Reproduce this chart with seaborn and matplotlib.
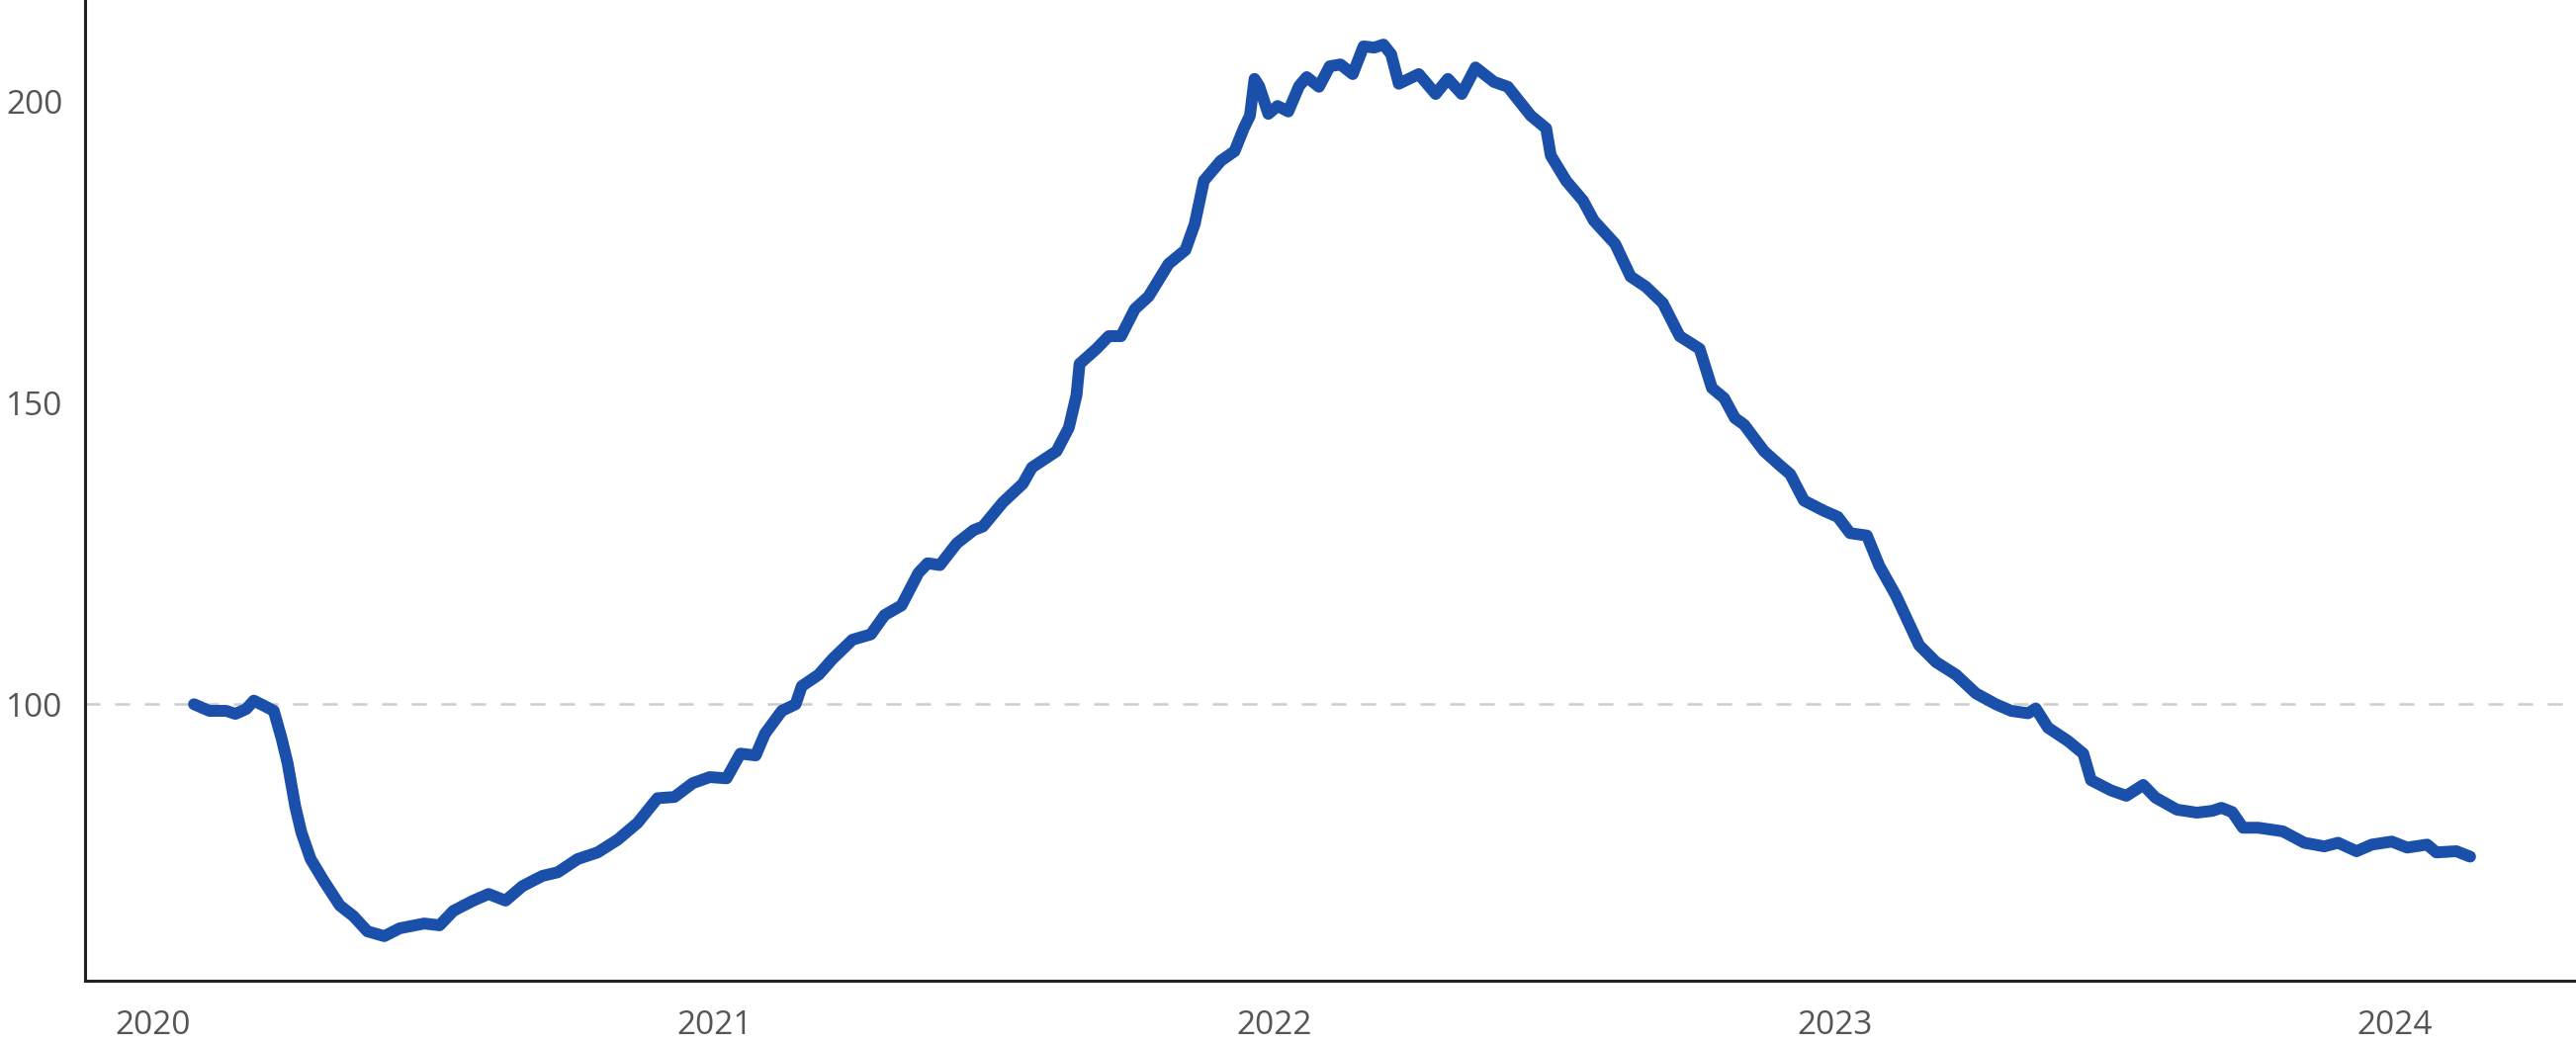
import pandas as pd
import numpy as np
import matplotlib
matplotlib.use("Agg")
import matplotlib.pyplot as plt
import matplotlib.dates as mdates
import seaborn as sns

# index values (start = 100)
dates_2020 = ["2020-01-28", "2020-02-07", "2020-02-18", "2020-02-24", "2020-03-02", "2020-03-07",
              "2020-03-14", "2020-03-20", "2020-03-25", "2020-03-29", "2020-04-03", "2020-04-07",
              "2020-04-13", "2020-04-22", "2020-05-02", "2020-05-11", "2020-05-20", "2020-05-31",
              "2020-06-10", "2020-06-26", "2020-07-06", "2020-07-15", "2020-07-28", "2020-08-07",
              "2020-08-18", "2020-08-29", "2020-09-11", "2020-09-21", "2020-10-04", "2020-10-17",
              "2020-10-30", "2020-11-12", "2020-11-25", "2020-12-06", "2020-12-18", "2020-12-29"]
vals_2020 = [100.0, 98.9, 98.9, 98.4, 99.2, 100.6,
             99.7, 98.9, 94.4, 90.2, 83.0, 78.7,
             74.3, 70.5, 66.6, 64.8, 62.3, 61.5,
             62.8, 63.6, 63.3, 65.7, 67.4, 68.5,
             67.4, 69.8, 71.5, 72.1, 74.3, 75.4,
             77.5, 80.3, 84.4, 84.6, 86.9, 87.9]

dates_2021 = ["2021-01-09", "2021-01-18", "2021-01-28", "2021-02-03", "2021-02-14", "2021-02-23",
              "2021-02-27", "2021-03-10", "2021-03-19", "2021-04-01", "2021-04-13", "2021-04-22",
              "2021-05-03", "2021-05-14", "2021-05-20", "2021-05-28", "2021-06-08", "2021-06-19",
              "2021-06-25", "2021-07-08", "2021-07-21", "2021-07-27", "2021-08-12", "2021-08-20",
              "2021-08-25", "2021-08-27", "2021-09-07", "2021-09-15", "2021-09-23", "2021-10-02",
              "2021-10-11", "2021-10-24", "2021-11-04", "2021-11-10", "2021-11-16", "2021-11-27",
              "2021-12-06", "2021-12-12", "2021-12-16", "2021-12-19", "2021-12-22", "2021-12-28"]
vals_2021 = [87.7, 91.8, 91.5, 95.1, 98.9, 100.0,
             103.0, 104.9, 107.5, 110.7, 111.6, 114.8,
             116.4, 121.8, 123.4, 123.1, 126.7, 128.9,
             129.5, 133.5, 136.6, 139.3, 142.0, 145.9,
             151.3, 156.5, 159.0, 161.1, 161.1, 165.6,
             167.7, 173.1, 175.4, 179.7, 186.9, 190.2,
             191.8, 195.6, 197.7, 203.8, 202.6, 198.0]

dates_2022 = ["2022-01-03", "2022-01-10", "2022-01-17", "2022-01-22", "2022-01-30", "2022-02-06",
              "2022-02-13", "2022-02-21", "2022-02-28", "2022-03-07", "2022-03-13", "2022-03-18",
              "2022-03-23", "2022-04-05", "2022-04-16", "2022-04-24", "2022-05-03", "2022-05-12",
              "2022-05-24", "2022-06-02", "2022-06-17", "2022-06-27", "2022-06-30", "2022-07-10",
              "2022-07-21", "2022-07-28", "2022-08-11", "2022-08-21", "2022-08-31", "2022-09-11",
              "2022-09-22", "2022-10-05", "2022-10-13", "2022-10-21", "2022-10-28", "2022-11-03",
              "2022-11-16", "2022-11-27", "2022-12-03", "2022-12-12", "2022-12-25"]
vals_2022 = [199.3, 198.4, 202.6, 204.1, 202.5, 205.9,
             206.2, 204.6, 209.2, 209.0, 209.5, 207.9,
             203.0, 204.6, 201.3, 203.8, 201.3, 205.7,
             203.3, 202.5, 197.7, 195.6, 191.1, 186.9,
             183.6, 180.3, 176.4, 171.0, 169.3, 166.6,
             161.1, 159.0, 152.5, 150.8, 147.5, 146.4,
             142.0, 139.5, 138.2, 133.8, 132.1]

dates_2023 = ["2023-01-03", "2023-01-11", "2023-01-22", "2023-01-30", "2023-02-10", "2023-02-19",
              "2023-02-25", "2023-03-08", "2023-03-21", "2023-04-03", "2023-04-16", "2023-04-26",
              "2023-05-07", "2023-05-12", "2023-05-20", "2023-06-02", "2023-06-12", "2023-06-17",
              "2023-06-30", "2023-07-10", "2023-07-21", "2023-07-29", "2023-08-12", "2023-08-25",
              "2023-09-04", "2023-09-10", "2023-09-17", "2023-09-24", "2023-10-04", "2023-10-20",
              "2023-11-03", "2023-11-16", "2023-11-25", "2023-12-07", "2023-12-17", "2023-12-30"]
vals_2023 = [131.1, 128.4, 128.0, 123.0, 118.0, 113.1,
             109.8, 107.0, 104.9, 101.8, 100.0, 98.9,
             98.5, 99.3, 96.1, 93.9, 91.8, 87.4,
             85.7, 84.8, 86.6, 84.5, 82.5, 82.0,
             82.3, 82.8, 82.1, 79.5, 79.5, 78.9,
             77.0, 76.4, 77.0, 75.6, 76.7, 77.2]

dates_2024 = ["2024-01-09", "2024-01-22", "2024-01-28", "2024-02-10", "2024-02-19"]
vals_2024 = [76.2, 76.7, 75.4, 75.6, 74.7]

year_labels = ["2020", "2021", "2022", "2023", "2024"]
y_ticks = [100, 150, 200]
baseline = 100

df = pd.DataFrame({
    "date": pd.to_datetime(dates_2020 + dates_2021 + dates_2022 + dates_2023 + dates_2024),
    "value": vals_2020 + vals_2021 + vals_2022 + vals_2023 + vals_2024,
})

sns.set_style("white")
plt.rcParams["font.family"] = ["Open Sans", "DejaVu Sans"]

fig = plt.figure(figsize=(26.05, 10.56), dpi=100)
ax = fig.add_axes([0.033, 0.0606, 0.967, 0.9394])

ax.axhline(baseline, color="#cccccc", lw=1.8, dashes=(6, 6), zorder=1)
sns.lineplot(data=df, x="date", y="value", color="#1a50aa", lw=8.6, ax=ax,
             solid_capstyle="round", solid_joinstyle="round", zorder=3)

ax.set_xlim(pd.Timestamp("2019-11-18"), pd.Timestamp("2024-04-28"))
ax.set_ylim(54.1, 216.9)
ax.set_xticks(pd.to_datetime([y + "-01-01" for y in year_labels]))
ax.set_xticklabels(year_labels)
ax.set_yticks(y_ticks)
ax.set_yticklabels([str(v) for v in y_ticks])
ax.tick_params(axis="both", length=0, labelsize=24, labelcolor="#555555")
ax.tick_params(axis="x", pad=21)
ax.tick_params(axis="y", pad=16)
ax.set_xlabel("")
ax.set_ylabel("")

for s in ["top", "right"]:
    ax.spines[s].set_visible(False)
for s in ["left", "bottom"]:
    ax.spines[s].set_color("#222222")
    ax.spines[s].set_linewidth(2.2)

fig.savefig("out.png", dpi=100, facecolor="white")
